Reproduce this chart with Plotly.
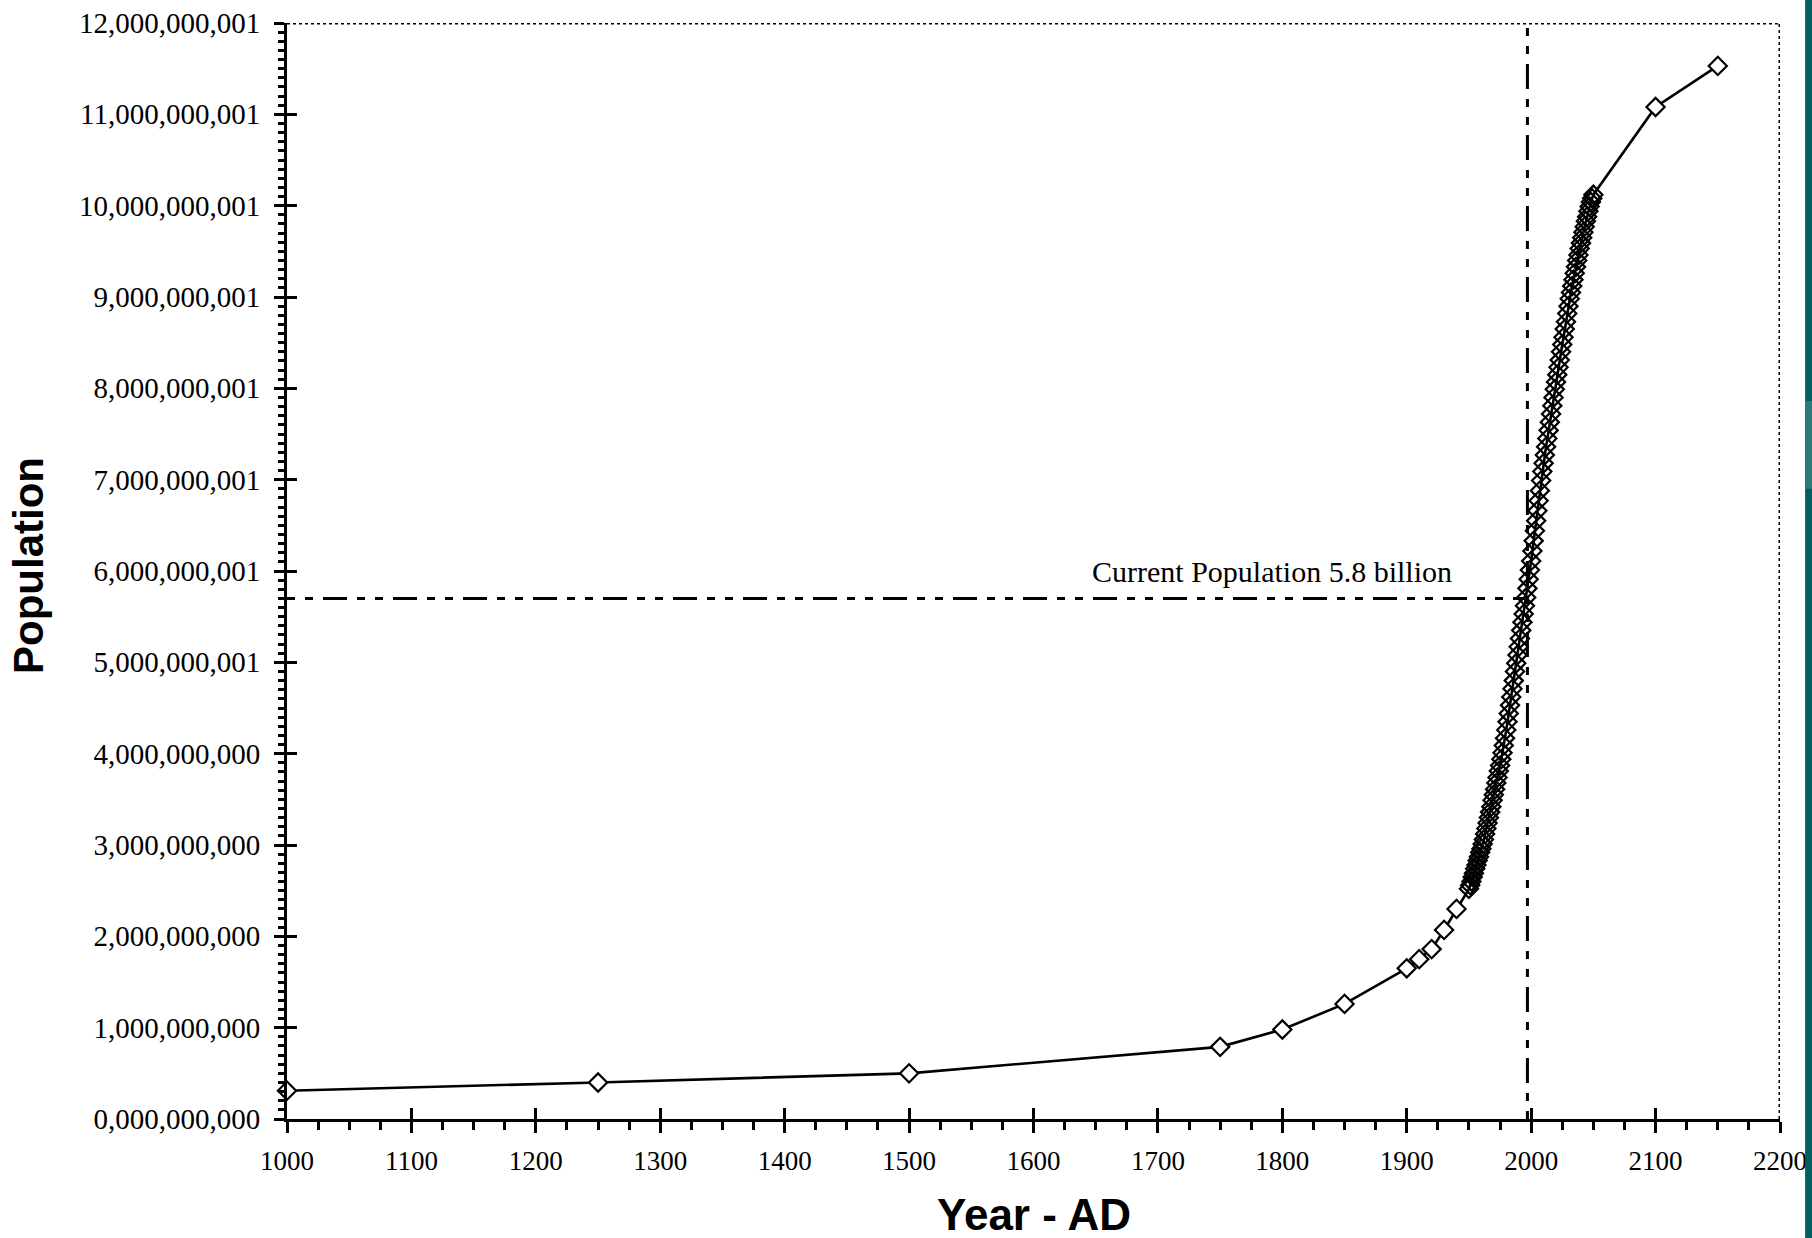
import plotly.graph_objects as go

# ---- data ----
years_early = [1000, 1250, 1500, 1750, 1800, 1850, 1900, 1910, 1920, 1930, 1940]
pop_early_bn = [0.31, 0.40, 0.50, 0.79, 0.98, 1.26, 1.65, 1.75, 1.86, 2.07, 2.30]

years_annual = list(range(1950, 2051))
pop_annual_bn = [
    2.52, 2.56, 2.60, 2.65, 2.69, 2.74, 2.78, 2.83, 2.87, 2.92,
    2.96, 3.01, 3.06, 3.12, 3.18, 3.24, 3.30, 3.36, 3.42, 3.49,
    3.55, 3.61, 3.68, 3.74, 3.81, 3.87, 3.94, 4.01, 4.09, 4.17,
    4.26, 4.35, 4.44, 4.53, 4.62, 4.71, 4.80, 4.90, 4.99, 5.08,
    5.17, 5.26, 5.35, 5.44, 5.53, 5.62, 5.71, 5.81, 5.91, 6.01,
    6.11, 6.22, 6.33, 6.44, 6.55, 6.66, 6.77, 6.88, 6.99, 7.09,
    7.18, 7.27, 7.36, 7.45, 7.54, 7.63, 7.72, 7.81, 7.90, 7.99,
    8.07, 8.15, 8.23, 8.31, 8.40, 8.48, 8.56, 8.65, 8.73, 8.82,
    8.90, 8.98, 9.05, 9.12, 9.19, 9.26, 9.33, 9.40, 9.46, 9.53,
    9.59, 9.65, 9.71, 9.77, 9.83, 9.88, 9.94, 9.99, 10.04, 10.08,
    10.12,
]

years_late = [2100, 2150]
pop_late_bn = [11.08, 11.53]

current_year = 1997
current_pop = 5.7e9
annotation_text = "Current Population 5.8 billion"

x_tick_vals = list(range(1000, 2201, 100))
x_tick_text = [str(v) for v in x_tick_vals]
y_tick_vals = [0, 1e9, 2e9, 3e9, 4e9, 5e9 + 1, 6e9 + 1, 7e9 + 1, 8e9 + 1,
               9e9 + 1, 10e9 + 1, 11e9 + 1, 12e9 + 1]
y_tick_text = ["0,000,000,000", "1,000,000,000", "2,000,000,000", "3,000,000,000",
               "4,000,000,000", "5,000,000,001", "6,000,000,001", "7,000,000,001",
               "8,000,000,001", "9,000,000,001", "10,000,000,001", "11,000,000,001",
               "12,000,000,001"]

# ---- build ----
years = years_early + years_annual + years_late
pops = [v * 1e9 for v in pop_early_bn + pop_annual_bn + pop_late_bn]
fills = ["white" if (y < 1950 or y > 2050) else "rgba(0,0,0,0)" for y in years]

X_MIN, X_MAX = 1000, 2200
Y_MIN, Y_MAX = 0, 12e9 + 1

fig = go.Figure()

fig.add_trace(go.Scatter(
    x=years, y=pops, mode="lines",
    line=dict(color="black", width=2.6),
    hoverinfo="skip", showlegend=False, cliponaxis=False,
))
fig.add_trace(go.Scatter(
    x=years, y=pops, mode="markers",
    marker=dict(symbol="diamond", size=14, color=fills,
                line=dict(color="black", width=2.2)),
    showlegend=False, cliponaxis=False,
))
# helper trace for the inner (crossing) tick axes
fig.add_trace(go.Scatter(
    x=years[:1], y=pops[:1], xaxis="x2", yaxis="y2", mode="lines",
    line=dict(width=0), hoverinfo="skip", showlegend=False,
))

tick_font_x = dict(family="Liberation Serif", size=27, color="black")
tick_font_y = dict(family="Liberation Serif", size=29, color="black")

fig.update_layout(
    width=1812, height=1238,
    margin=dict(l=287, r=32, t=23, b=119, autoexpand=False),
    paper_bgcolor="white", plot_bgcolor="white",
    xaxis=dict(
        range=[X_MIN, X_MAX], tickmode="array", tickvals=x_tick_vals, ticktext=x_tick_text,
        ticks="outside", ticklen=11, tickwidth=3, tickcolor="black",
        minor=dict(dtick=25, tick0=1000, ticks="outside", ticklen=8, tickwidth=3,
                   tickcolor="black", showgrid=False),
        showline=True, linecolor="black", linewidth=3,
        showgrid=False, zeroline=False, tickfont=tick_font_x,
        ticklabelstandoff=5, automargin=False, ticklabeloverflow="allow",
    ),
    yaxis=dict(
        range=[Y_MIN, Y_MAX], tickmode="array", tickvals=y_tick_vals, ticktext=y_tick_text,
        ticks="outside", ticklen=10, tickwidth=3, tickcolor="black",
        minor=dict(dtick=1e8, tick0=0, ticks="outside", ticklen=6, tickwidth=3,
                   tickcolor="black", showgrid=False),
        showline=True, linecolor="black", linewidth=3,
        showgrid=False, zeroline=False, tickfont=tick_font_y,
        ticklabelstandoff=8, automargin=False, ticklabeloverflow="allow",
    ),
    xaxis2=dict(
        range=[X_MIN, X_MAX], overlaying="x", anchor="y2", side="bottom",
        tickmode="array", tickvals=x_tick_vals, showticklabels=False,
        ticks="inside", ticklen=11, tickwidth=3, tickcolor="black",
        showline=False, showgrid=False, zeroline=False, automargin=False,
    ),
    yaxis2=dict(
        range=[Y_MIN, Y_MAX], overlaying="y", anchor="x2", side="left",
        tickmode="array", tickvals=y_tick_vals, showticklabels=False,
        ticks="inside", ticklen=10, tickwidth=3, tickcolor="black",
        showline=False, showgrid=False, zeroline=False, automargin=False,
    ),
)

# dotted top and right frame
fig.add_shape(type="line", x0=X_MIN, x1=X_MAX, y0=Y_MAX, y1=Y_MAX, xref="x", yref="y",
              line=dict(color="black", width=3, dash="dot"))
fig.add_shape(type="line", x0=X_MAX, x1=X_MAX, y0=Y_MIN, y1=Y_MAX, xref="x", yref="y",
              line=dict(color="black", width=3, dash="dot"))

# current population reference lines
fig.add_shape(type="line", x0=current_year, x1=current_year, y0=Y_MIN, y1=Y_MAX,
              xref="x", yref="y",
              line=dict(color="black", width=3, dash="8px,10px,8px,10px,25px,10px"))
fig.add_shape(type="line", x0=X_MIN, x1=current_year, y0=current_pop, y1=current_pop,
              xref="x", yref="y",
              line=dict(color="black", width=3, dash="8px,10px,8px,10px,24px,10px"))

fig.add_annotation(x=1792, y=6.0e9, xref="x", yref="y", text=annotation_text,
                   showarrow=False, xanchor="center", yanchor="middle",
                   font=dict(family="Liberation Serif", size=30, color="black"))

# axis titles
fig.add_annotation(x=0.5, y=-0.0875, xref="paper", yref="paper", text="<b>Year - AD</b>",
                   showarrow=False, xanchor="center", yanchor="middle",
                   font=dict(family="Liberation Sans", size=44, color="black"))
fig.add_annotation(x=-0.1728, y=0.5046, xref="paper", yref="paper", text="<b>Population</b>",
                   showarrow=False, xanchor="center", yanchor="middle", textangle=-90,
                   font=dict(family="Liberation Sans", size=42, color="black"))

# teal strip at the right edge
fig.add_shape(type="rect", xref="paper", yref="paper", x0=1.0168, x1=1.03, y0=-0.12, y1=1.03,
              fillcolor="#005f5f", line=dict(width=0), layer="above")
fig.add_shape(type="rect", xref="paper", yref="paper", x0=1.0168, x1=1.03, y0=0.575, y1=0.655,
              fillcolor="#2b7b7b", line=dict(width=0), layer="above")

fig.write_html(
    "out.html",
    config={"displayModeBar": False},
    post_script="document.body.style.margin='0px';"
                "document.documentElement.style.overflow='hidden';"
                "document.body.style.overflow='hidden';",
)
